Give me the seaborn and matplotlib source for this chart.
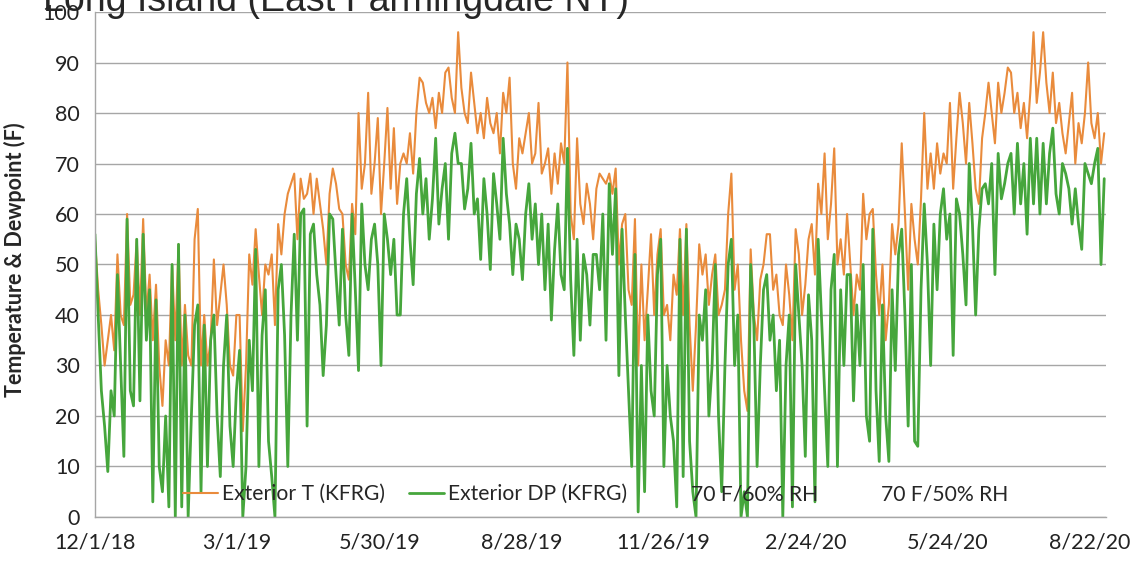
#!/usr/bin/env python3

import matplotlib
matplotlib.use("Agg")
import matplotlib.pyplot as plt
from matplotlib.lines import Line2D
import pandas as pd
import seaborn as sns


# exterior temperature (F), every 2 days
temp_dec18_may19 = [
	55, 45, 38, 30, 35, 40, 33, 52, 40, 38,
	60, 42, 44, 55, 40, 59, 40, 48, 35, 46,
	30, 22, 35, 30, 50, 35, 54, 30, 42, 32,
	30, 55, 61, 30, 40, 30, 35, 51, 38, 44,
	50, 42, 30, 28, 40, 40, 17, 30, 52, 46,
	57, 48, 40, 50, 48, 52, 38, 58, 52, 60,
	64, 66, 68, 55, 67, 63, 64, 68, 60, 67,
	62, 57, 50, 64, 69, 66, 61, 60]
temp_may19_nov19 = [
	50, 47, 62, 56, 80, 65, 70, 84, 64, 70,
	79, 60, 70, 81, 65, 77, 62, 70, 72, 70,
	76, 68, 80, 87, 86, 82, 80, 83, 77, 84,
	80, 88, 89, 83, 80, 96, 85, 80, 78, 88,
	82, 76, 80, 75, 83, 78, 76, 80, 72, 84,
	80, 87, 70, 65, 75, 72, 76, 80, 70, 72,
	82, 68, 70, 73, 64, 72, 66, 74, 70, 90,
	60, 55, 75, 62, 58, 66, 62, 55]
temp_nov19_apr20 = [
	65, 68, 67, 66, 68, 64, 69, 50, 58, 60,
	45, 42, 59, 30, 50, 35, 45, 56, 40, 52,
	57, 40, 42, 35, 48, 44, 57, 40, 58, 38,
	25, 38, 54, 48, 52, 42, 48, 52, 40, 42,
	45, 60, 68, 45, 50, 35, 25, 21, 53, 40,
	35, 47, 50, 56, 56, 45, 48, 40, 38, 50,
	44, 35, 57, 52, 40, 46, 55, 58, 48, 66,
	60, 72, 55, 62, 73, 50, 55, 48, 60]
temp_apr20_aug20 = [
	50, 40, 48, 45, 64, 55, 60, 61, 48, 40,
	50, 35, 42, 58, 52, 58, 74, 60, 45, 62,
	55, 50, 63, 80, 65, 72, 65, 74, 68, 72,
	70, 82, 65, 75, 84, 78, 70, 82, 74, 65,
	62, 75, 80, 86, 80, 74, 86, 80, 84, 89,
	88, 80, 84, 77, 82, 75, 84, 96, 82, 88,
	96, 86, 80, 88, 78, 82, 76, 72, 78, 84,
	70, 78, 74, 80, 90, 78, 75, 80, 70, 76]

# exterior dewpoint (F), same sampling
dew_dec18_may19 = [
	56, 40, 25, 18, 9, 25, 20, 48, 30, 12,
	59, 25, 22, 55, 23, 56, 35, 45, 3, 43,
	10, 5, 20, 2, 50, 0, 54, 2, 40, 0,
	20, 38, 42, 5, 38, 10, 35, 40, 20, 8,
	30, 40, 18, 10, 25, 33, 0, 10, 35, 25,
	53, 10, 36, 45, 15, 8, 0, 45, 50, 36,
	10, 40, 56, 35, 60, 61, 18, 56, 58, 48,
	42, 28, 38, 60, 59, 48, 38, 57]
dew_may19_nov19 = [
	40, 32, 60, 45, 29, 62, 50, 45, 55, 58,
	50, 30, 60, 55, 48, 55, 40, 40, 60, 67,
	55, 46, 64, 71, 60, 67, 55, 63, 75, 58,
	65, 70, 55, 72, 76, 70, 70, 61, 65, 74,
	60, 63, 51, 67, 60, 49, 68, 62, 55, 75,
	64, 58, 48, 58, 55, 47, 60, 66, 55, 62,
	50, 60, 45, 58, 39, 53, 62, 48, 45, 73,
	47, 32, 55, 35, 52, 48, 38, 52]
dew_nov19_apr20 = [
	52, 45, 60, 35, 66, 52, 65, 28, 57, 40,
	25, 10, 52, 1, 30, 5, 40, 25, 20, 48,
	55, 10, 30, 20, 15, 2, 55, 8, 57, 15,
	5, 0, 40, 35, 45, 20, 30, 50, 20, 5,
	30, 50, 55, 30, 40, 0, 5, 0, 50, 38,
	10, 30, 45, 48, 35, 40, 25, 35, 0, 30,
	40, 2, 50, 40, 30, 12, 44, 35, 3, 55,
	40, 25, 10, 45, 52, 10, 45, 30, 48]
dew_apr20_aug20 = [
	48, 23, 42, 30, 50, 20, 15, 57, 25, 11,
	42, 20, 11, 45, 29, 52, 57, 40, 18, 50,
	15, 14, 45, 62, 50, 30, 58, 45, 60, 65,
	55, 60, 32, 63, 60, 52, 42, 70, 58, 40,
	57, 65, 66, 62, 70, 48, 72, 63, 66, 70,
	72, 60, 74, 62, 70, 56, 75, 62, 75, 60,
	74, 62, 72, 77, 64, 60, 70, 68, 65, 58,
	65, 58, 53, 70, 68, 66, 70, 73, 50, 67]

tick_dates = ["2018-12-01", "2019-03-01", "2019-05-30", "2019-08-28",
	"2019-11-26", "2020-02-24", "2020-05-24", "2020-08-22"]
tick_labels = ["12/1/18", "3/1/19", "5/30/19", "8/28/19",
	"11/26/19", "2/24/20", "5/24/20", "8/22/20"]

title = "Long Island (East Farmingdale NY)"
series_names = ["Exterior T (KFRG)", "Exterior DP (KFRG)", "70 F/60% RH", "70 F/50% RH"]

orange = "#E98B3C"
green = "#46A63C"
grey = "#A6A6A6"


if __name__ == "__main__":
	temp = temp_dec18_may19 + temp_may19_nov19 + temp_nov19_apr20 + temp_apr20_aug20
	dew = dew_dec18_may19 + dew_may19_nov19 + dew_nov19_apr20 + dew_apr20_aug20

	dates = pd.date_range("2018-12-01", "2020-08-31", periods=len(temp))
	data = pd.DataFrame({"date": dates, "temp": temp, "dew": dew})

	sns.set_style("white")
	plt.rcParams["font.family"] = ["Lato", "DejaVu Sans"]

	fig = plt.figure(figsize=(11.33, 5.69), dpi=100)
	ax = fig.add_axes([0.0838, 0.0914, 0.8922, 0.8875])

	sns.lineplot(data=data, x="date", y="temp", color=orange, linewidth=1.5, ax=ax)
	sns.lineplot(data=data, x="date", y="dew", color=green, linewidth=2.0, ax=ax)

	# axes
	ax.set_xlim(pd.Timestamp("2018-12-01"), pd.Timestamp("2020-09-01"))
	ax.set_ylim(0, 100)
	ax.set_yticks(range(0, 101, 10))
	ax.set_xticks(pd.to_datetime(tick_dates))
	ax.set_xticklabels(tick_labels)
	ax.yaxis.grid(True, color=grey, linewidth=1.0)
	ax.set_axisbelow(True)
	for side in ["top", "right"]:
		ax.spines[side].set_visible(False)
	for side in ["left", "bottom"]:
		ax.spines[side].set_color(grey)
		ax.spines[side].set_linewidth(1.0)
	ax.tick_params(axis="y", length=0, pad=11, labelsize=15.5, labelcolor="#222222")
	ax.tick_params(axis="x", length=4, width=1, color=grey, direction="out", pad=7,
		labelsize=15.5, labelcolor="#222222")

	ax.set_xlabel("")
	ax.set_ylabel("Temperature & Dewpoint (F)", fontsize=15.5, fontweight="bold")
	ax.yaxis.set_label_coords(-0.068, 0.51)

	# legend inside the plot, no frame
	handles = [
		Line2D([], [], color=orange, linewidth=1.5),
		Line2D([], [], color=green, linewidth=2.0),
		Line2D([], [], color="none"),
		Line2D([], [], color="none"),
	]
	ax.legend(handles, series_names, loc="center left", bbox_to_anchor=(0.087, 0.045),
		ncol=4, frameon=False, fontsize=15.2, handlelength=1.65, handletextpad=0.2,
		columnspacing=1.15, borderaxespad=0, borderpad=0)

	# title, mostly cut off at the top edge
	fig.text(43 / 1133, 1 - 11 / 569, title, fontsize=27, family="Liberation Sans",
		ha="left", va="baseline")

	plt.savefig("out.png", dpi=100)
	plt.close()
